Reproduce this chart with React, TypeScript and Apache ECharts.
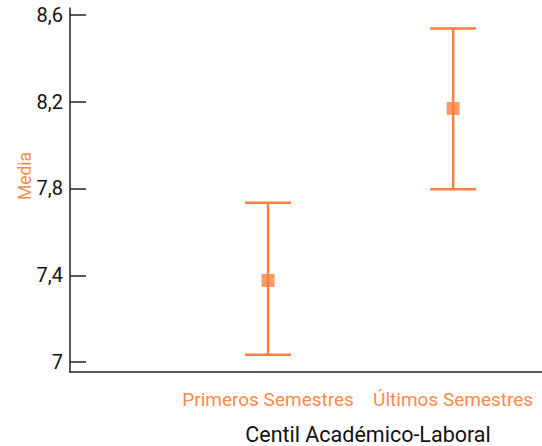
import React, { useEffect, useRef } from "react";
import * as echarts from "echarts";

const categories = ["Primeros Semestres", "Últimos Semestres"];
const means = [7.376, 8.169];
const lowers = [7.033, 7.797];
const uppers = [7.734, 8.537];
const yTicks = [7, 7.4, 7.8, 8.2, 8.6];

const ORANGE = "#FF7F3F";
const LABEL_ORANGE = "#FF8A4C";
const FONT = "Roboto, sans-serif";

export default function App() {
  const ref = useRef<HTMLDivElement>(null);
  useEffect(() => {
    if (!ref.current) return;
    const chart = echarts.init(ref.current, null, { renderer: "svg" });
    const xs = categories.map((_, i) => i + 1);
    chart.setOption({
      animation: false,
      grid: { left: 70, right: 0, top: 8, bottom: 74, containLabel: false, outerBoundsMode: "none" },
      xAxis: {
        type: "value",
        min: -0.07,
        max: 2.48,
        splitLine: { show: false },
        axisLine: { show: true, onZero: false, lineStyle: { color: "#222", width: 1.5 } },
        axisTick: { show: false },
        axisLabel: {
          customValues: xs,
          margin: 18,
          hideOverlap: false,
          showMinLabel: true,
          showMaxLabel: true,
          color: LABEL_ORANGE,
          fontFamily: FONT,
          fontSize: 19,
          formatter: (v: number) => categories[Math.round(v) - 1] ?? "",
        },
      },
      yAxis: {
        type: "value",
        min: 6.954,
        max: 8.632,
        splitLine: { show: false },
        axisLine: { show: true, onZero: false, lineStyle: { color: "#222", width: 1.5 } },
        axisTick: {
          show: true,
          inside: true,
          length: 16,
          customValues: yTicks,
          lineStyle: { color: "#222", width: 1.5 },
        },
        axisLabel: {
          customValues: yTicks,
          margin: 7,
          hideOverlap: false,
          showMinLabel: true,
          showMaxLabel: true,
          color: "#111",
          fontFamily: FONT,
          fontSize: 20,
          formatter: (v: number) => String(Math.round(v * 10) / 10).replace(".", ","),
        },
      },
      graphic: [
        {
          type: "text",
          x: 25,
          y: 176,
          rotation: Math.PI / 2,
          style: {
            text: "Media",
            fill: LABEL_ORANGE,
            font: `17.5px ${FONT}`,
            textAlign: "center",
            textVerticalAlign: "middle",
          },
        },
        {
          type: "text",
          x: 368,
          y: 434,
          style: {
            text: "Centil Académico-Laboral",
            fill: "#111",
            font: `21.5px ${FONT}`,
            textAlign: "center",
            textVerticalAlign: "middle",
          },
        },
      ],
      series: [
        {
          type: "custom",
          data: xs.map((x, i) => [x, lowers[i], uppers[i]]),
          renderItem: (params: any, api: any) => {
            const x = api.value(0);
            const lo = api.coord([x, api.value(1)]);
            const hi = api.coord([x, api.value(2)]);
            const hw = 23;
            const style = { stroke: ORANGE, lineWidth: 2.5 };
            return {
              type: "group",
              children: [
                { type: "line", shape: { x1: lo[0], y1: lo[1], x2: hi[0], y2: hi[1] }, style },
                { type: "line", shape: { x1: hi[0] - hw, y1: hi[1], x2: hi[0] + hw, y2: hi[1] }, style },
                { type: "line", shape: { x1: lo[0] - hw, y1: lo[1], x2: lo[0] + hw, y2: lo[1] }, style },
              ],
            };
          },
        },
        {
          type: "scatter",
          symbol: "rect",
          symbolSize: 13,
          itemStyle: { color: ORANGE },
          data: xs.map((x, i) => [x, means[i]]),
        },
      ],
    });
    return () => chart.dispose();
  }, []);
  return <div ref={ref} style={{ width: 542, height: 446, position: "absolute", left: 0, top: 0 }} />;
}
